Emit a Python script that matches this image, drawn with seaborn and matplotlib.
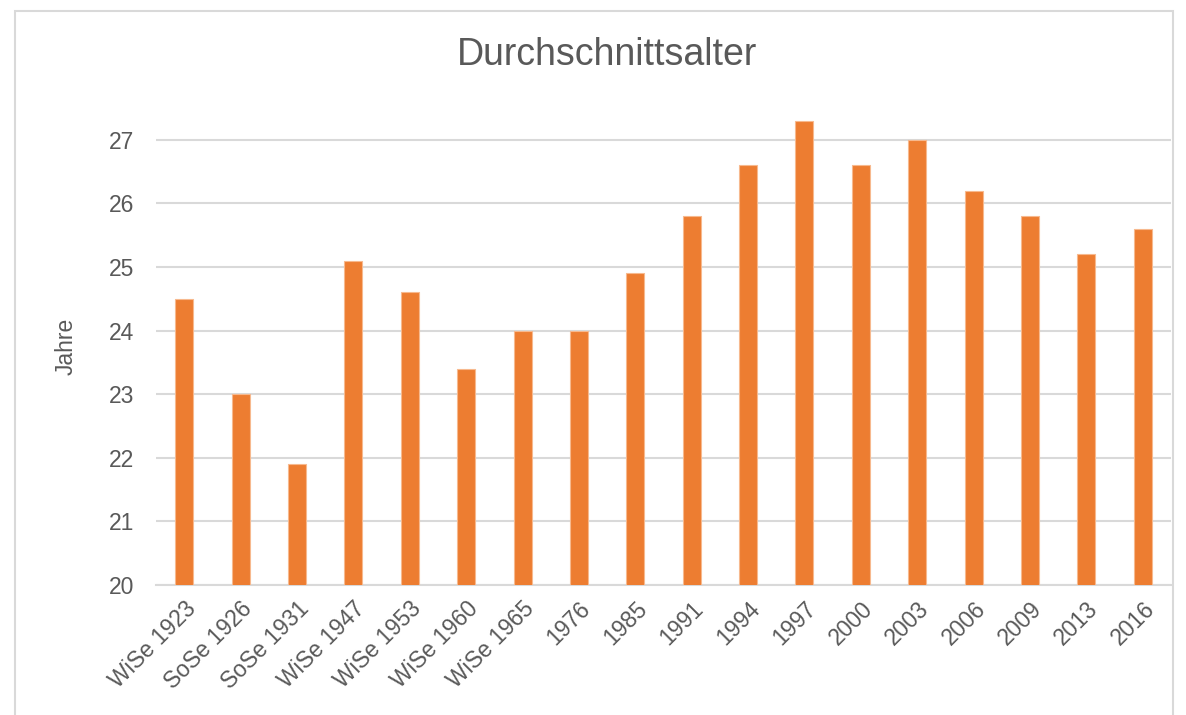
import matplotlib
matplotlib.use("Agg")
import matplotlib.pyplot as plt
import seaborn as sns
import pandas as pd
from matplotlib.patches import Rectangle

# Durchschnittsalter per semester / year
labels = ["WiSe 1923", "SoSe 1926", "SoSe 1931", "WiSe 1947", "WiSe 1953",
          "WiSe 1960", "WiSe 1965", "1976", "1985", "1991", "1994", "1997",
          "2000", "2003", "2006", "2009", "2013", "2016"]
values = [24.5, 23.0, 21.9, 25.1, 24.6, 23.4, 24.0, 24.0, 24.9, 25.8,
          26.6, 27.3, 26.6, 27.0, 26.2, 25.8, 25.2, 25.6]
yticks = [20, 21, 22, 23, 24, 25, 26, 27]

df = pd.DataFrame({"Semester": labels, "Alter": values})

sns.set_style("white")
plt.rcParams['font.family'] = ['Liberation Sans', 'DejaVu Sans']
text_color = "#595959"

fig = plt.figure(figsize=(11.86, 7.15), dpi=100)
ax = fig.add_axes([156 / 1186, 130 / 715, 1015 / 1186, 477 / 715])

sns.barplot(data=df, x="Semester", y="Alter", color="#ED7D31", width=0.32,
            saturation=1, edgecolor="#F7B98E", linewidth=0.8, ax=ax, zorder=3)

ax.set_xlim(-0.5, len(labels) - 0.5)
ax.set_ylim(20, 27.5)
ax.set_yticks(yticks)
ax.grid(axis="y", color="#D9D9D9", linewidth=1.5, zorder=0)
ax.set_axisbelow(True)
for s in ["top", "right", "left"]:
    ax.spines[s].set_visible(False)
ax.spines["bottom"].set_color("#D9D9D9")
ax.spines["bottom"].set_linewidth(1.5)

ax.tick_params(axis="both", length=0, colors=text_color, labelsize=16.5)
ax.tick_params(axis="y", pad=16)
ax.set_xticks(range(len(labels)))
ax.set_xticklabels(labels, rotation=45, ha="right", rotation_mode="anchor")
ax.tick_params(axis="x", pad=9)

ax.set_xlabel("")
ax.set_ylabel("Jahre", color=text_color, fontsize=16.5, labelpad=22)
fig.text(607 / 1186, 1 - 55 / 715, "Durchschnittsalter", ha="center", va="center",
         fontsize=27, color=text_color)

# light chart border
fig.patches.append(Rectangle((15 / 1186, -10 / 715), 1158 / 1186, 714 / 715,
                             transform=fig.transFigure, fill=False,
                             edgecolor="#D9D9D9", linewidth=1.5))

fig.savefig("out.png", dpi=100, facecolor="white")
